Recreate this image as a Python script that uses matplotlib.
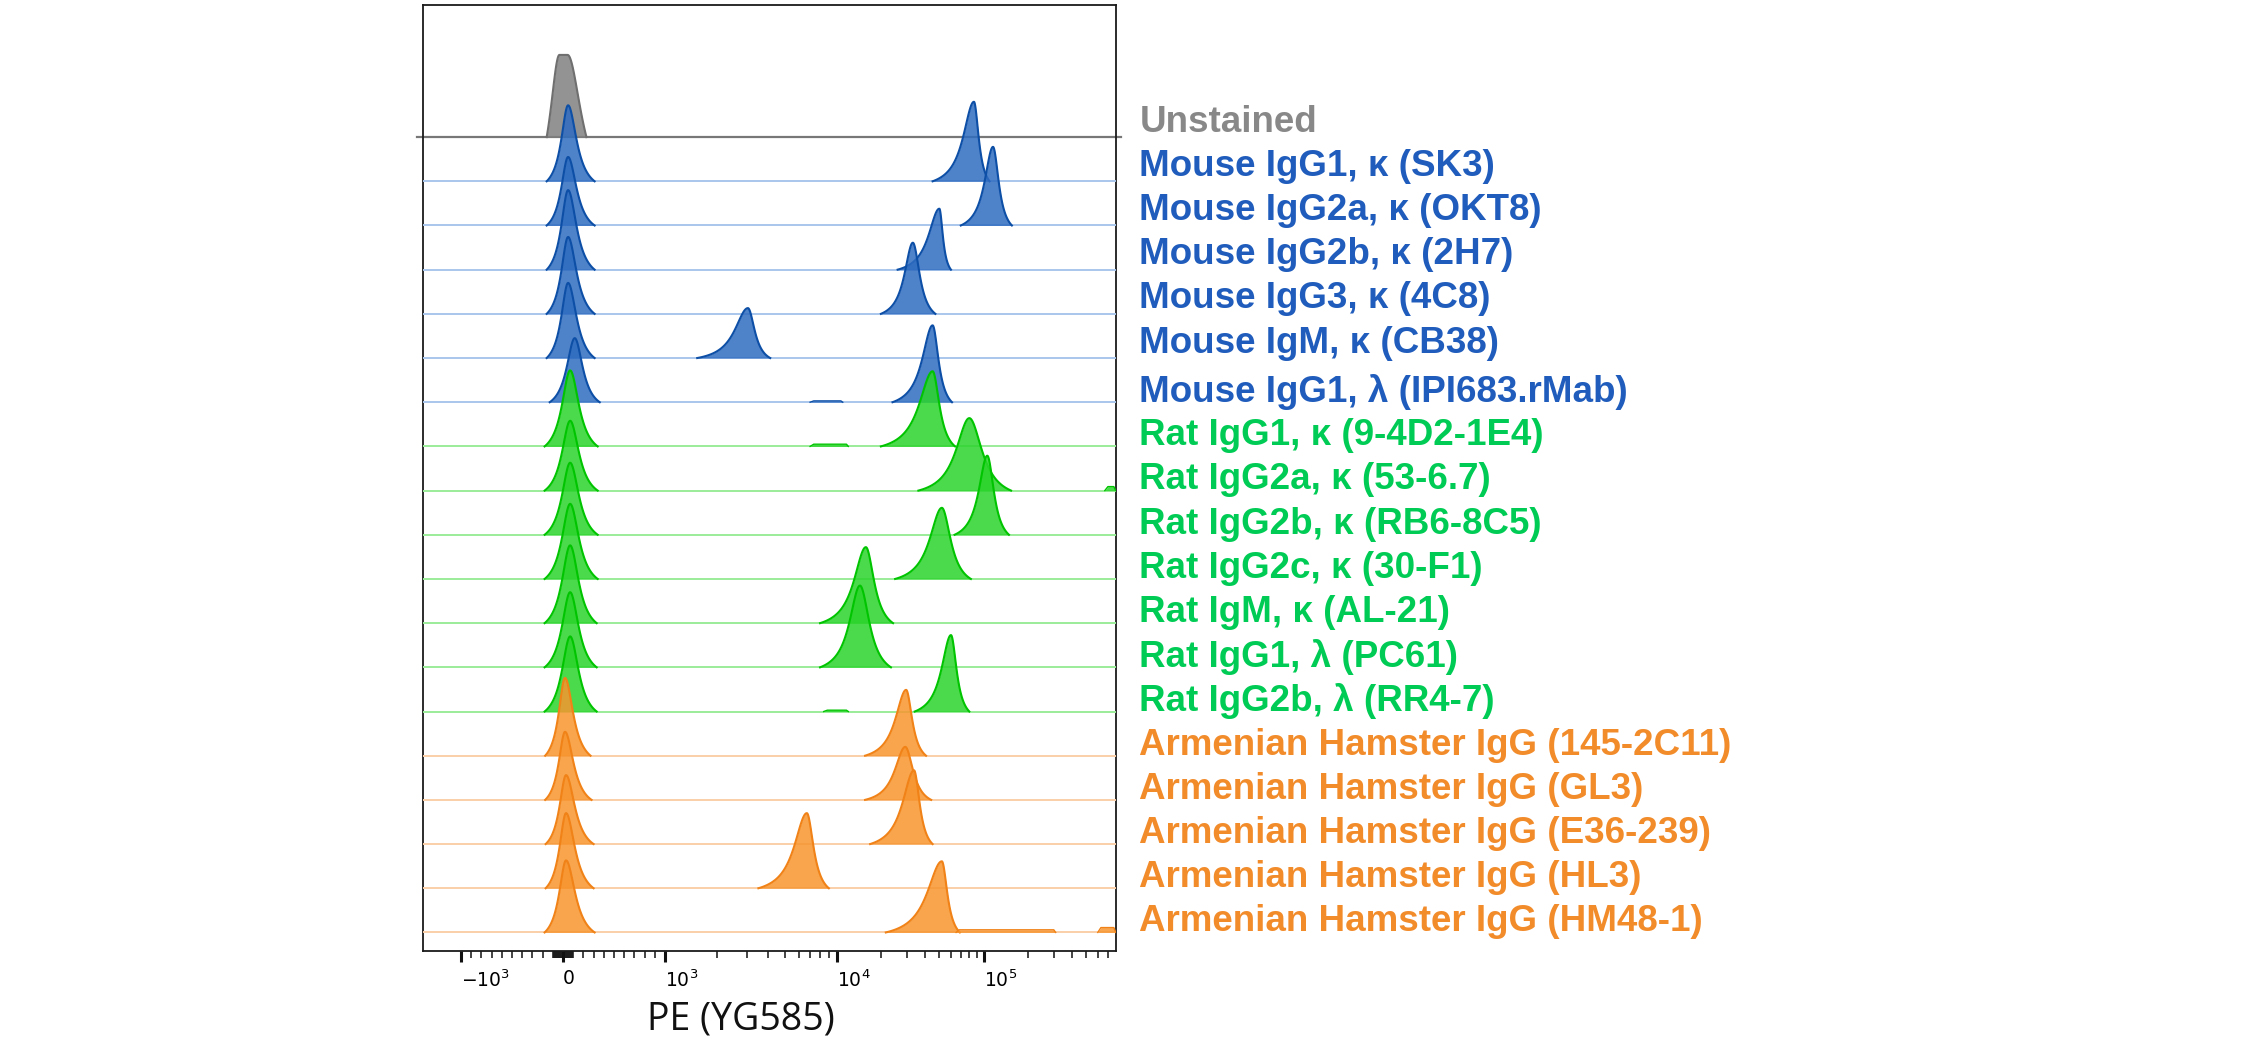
import numpy as np
import matplotlib
matplotlib.use("Agg")
import matplotlib.pyplot as plt
import matplotlib.transforms as mtransforms

# one histogram row per stain, top to bottom
labels = ["Unstained",
          "Mouse IgG1, κ (SK3)", "Mouse IgG2a, κ (OKT8)", "Mouse IgG2b, κ (2H7)",
          "Mouse IgG3, κ (4C8)", "Mouse IgM, κ (CB38)", "Mouse IgG1, λ (IPI683.rMab)",
          "Rat IgG1, κ (9-4D2-1E4)", "Rat IgG2a, κ (53-6.7)", "Rat IgG2b, κ (RB6-8C5)",
          "Rat IgG2c, κ (30-F1)", "Rat IgM, κ (AL-21)", "Rat IgG1, λ (PC61)",
          "Rat IgG2b, λ (RR4-7)",
          "Armenian Hamster IgG (145-2C11)", "Armenian Hamster IgG (GL3)",
          "Armenian Hamster IgG (E36-239)", "Armenian Hamster IgG (HL3)",
          "Armenian Hamster IgG (HM48-1)"]
groups = ["unstained"] + ["mouse"] * 6 + ["rat"] * 7 + ["hamster"] * 5

# negative population (PE units, height in row spacings)
zero_center = [5, 50, 50, 50, 50, 50, 115, 70, 70, 70, 70, 70, 70, 70, 20, 20, 30, 30, 30]
zero_left = [-160, -160, -160, -160, -160, -160, -130, -180, -180, -180, -180, -180, -180, -180,
             -175, -175, -170, -170, -180]
zero_right = [230, 310, 310, 310, 310, 310, 360, 340, 340, 340, 340, 330, 330, 330,
              270, 280, 300, 300, 310]
zero_height = [1.86, 1.72, 1.55, 1.80, 1.74, 1.70, 1.45, 1.72, 1.58, 1.63, 1.70, 1.76, 1.70, 1.70,
               1.76, 1.54, 1.56, 1.70, 1.63]

# stained population
pos_center = [None, 8.6e4, 1.16e5, 5.0e4, 3.3e4, 3.04e3, 4.5e4, 4.5e4, 8.0e4, 1.06e5, 5.2e4,
              1.58e4, 1.44e4, 6.0e4, 2.97e4, 2.93e4, 3.36e4, 6.7e3, 5.2e4]
pos_left = [None, 4.5e4, 7.0e4, 2.6e4, 2.0e4, 1.54e3, 2.4e4, 2.0e4, 3.6e4, 6.35e4, 2.5e4,
            8.0e3, 8.0e3, 3.4e4, 1.56e4, 1.56e4, 1.69e4, 3.5e3, 2.16e4]
pos_right = [None, 1.1e5, 1.56e5, 6.0e4, 4.7e4, 4.1e3, 6.1e4, 6.4e4, 1.54e5, 1.49e5, 8.2e4,
             2.42e4, 2.34e4, 8.0e4, 4.06e4, 4.4e4, 4.5e4, 9.0e3, 6.9e4]
pos_height = [0, 1.80, 1.78, 1.38, 1.61, 1.13, 1.74, 1.70, 1.64, 1.79, 1.61, 1.72, 1.85, 1.73,
              1.49, 1.20, 1.67, 1.70, 1.61]

# small flat stretches of events on the baseline: (row, from, to, height)
bumps = [(6, 7.0e3, 1.1e4, 0.03), (7, 7.0e3, 1.2e4, 0.05), (8, 6.7e5, 7.95e5, 0.09),
         (13, 8.4e3, 1.2e4, 0.03), (18, 6.5e4, 3.1e5, 0.06), (18, 6.0e5, 7.95e5, 0.11)]

major_ticks = [-1000, 0, 1000, 1e4, 1e5]
major_labels = [r"$\mathregular{-10^3}$", "0", r"$\mathregular{10^3}$",
                r"$\mathregular{10^4}$", r"$\mathregular{10^5}$"]
minor_ticks = (list(range(-900, 0, 100)) + list(range(-90, 100, 10)) + list(range(100, 1000, 100))
               + [k * 1e3 for k in range(2, 10)] + [k * 1e4 for k in range(2, 10)]
               + [k * 1e5 for k in range(2, 8)])

# label lift above each baseline (row spacings)
label_lift = [0.34] * 6 + [0.24] * 13

style = {
    "unstained": dict(fill="#808080", edge="#6f6f6f", base="#777777", text="#888888"),
    "mouse": dict(fill="#2f6cc0", edge="#0d4fa6", base="#a9c6ec", text="#1f5cbc"),
    "rat": dict(fill="#2bd42b", edge="#00c400", base="#9aec9a", text="#00cc55"),
    "hamster": dict(fill="#f7952f", edge="#f08217", base="#f9cfa8", text="#f28b2a"),
}

# biexponential-like display: linear around zero, log above 10^3
T0, SLOPE = 0.2021, 0.0001473
T3, T4, T5, D5 = 0.3494, 0.5972, 0.8092, 0.2119


def fwd(v):
    v = np.asarray(v, float)
    lin = T0 + v * SLOPE
    lg = np.interp(np.log10(np.clip(v, 1000, None)), [3, 4, 5, 6], [T3, T4, T5, T5 + D5])
    return np.where(v <= 1000, lin, lg)


def inv(t):
    t = np.asarray(t, float)
    lin = (t - T0) / SLOPE
    lg = 10 ** np.interp(t, [T3, T4, T5, T5 + D5], [3, 4, 5, 6])
    return np.where(t <= T3, lin, lg)


def prof(d, w):
    raw = 1 / (1 + (d / w) ** 2)
    lo = 1 / (1 + (1 / w) ** 2)
    return (raw - lo) / (1 - lo)


def peak_xy(center, left, right, wl, wr, top_half=0.0, n=60):
    l, cl, cr, r = fwd([left, center - top_half, center + top_half, right])
    tl = np.linspace(l, cl, n)
    tr = np.linspace(cr, r, n)
    rel = np.concatenate([prof((cl - tl) / (cl - l), wl), prof((tr - cr) / (r - cr), wr)])
    return inv(np.concatenate([tl, tr])), rel


fig = plt.figure(figsize=(22.42, 10.41), dpi=100)
ax = fig.add_axes([0.18867, 0.08646, 0.30897, 0.90874])
ax.set_xscale("function", functions=(fwd, inv))
ax.set_xlim(-1372, 7.95e5)
ax.set_ylim(-18.42, 2.99)

lab_tr = mtransforms.blended_transform_factory(ax.transAxes, ax.transData)

for i in range(len(labels)):
    st = style[groups[i]]
    base = -i
    z = 2 + i
    if i == 0:
        ax.axhline(base, xmin=-0.008, xmax=1.008, color=st["base"], lw=1.6, zorder=z, clip_on=False)
        x, rel = peak_xy(zero_center[i], zero_left[i], zero_right[i], 0.9, 0.9, top_half=40)
    else:
        ax.axhline(base, color=st["base"], lw=1.4, zorder=z)
        x, rel = peak_xy(zero_center[i], zero_left[i], zero_right[i], 0.4, 0.4)
    y = base + zero_height[i] * rel
    ax.fill_between(x, base, y, color=st["fill"], alpha=0.85, lw=0, zorder=z)
    ax.plot(x, y, color=st["edge"], lw=1.5, zorder=z)
    if pos_center[i] is not None:
        x, rel = peak_xy(pos_center[i], pos_left[i], pos_right[i], 0.32, 0.38)
        y = base + pos_height[i] * rel
        ax.fill_between(x, base, y, color=st["fill"], alpha=0.85, lw=0, zorder=z)
        ax.plot(x, y, color=st["edge"], lw=1.5, zorder=z)
    ax.text(1.034, base + label_lift[i], labels[i], transform=lab_tr, color=st["text"],
            fontsize=26.5, fontweight="bold", family=["Liberation Sans", "DejaVu Sans"],
            ha="left", va="center")

for row, a, b, h in bumps:
    st = style[groups[row]]
    ax.fill_between([a, a * 1.05, b / 1.03, b], -row, [-row, -row + h, -row + h, -row],
                    color=st["fill"], alpha=0.85, lw=0, zorder=2 + row)
    ax.plot([a, a * 1.05, b / 1.03, b], [-row, -row + h, -row + h, -row],
            color=st["edge"], lw=1.0, zorder=2 + row)

ax.set_xticks(major_ticks)
ax.set_xticklabels(major_labels)
ax.set_xticks(minor_ticks, minor=True)
for lbl in ax.get_xticklabels():
    lbl.set_horizontalalignment("left")
ax.tick_params(axis="x", which="major", length=8, width=2.2, direction="out",
               labelsize=13.5, pad=5, color="#111111")
ax.tick_params(axis="x", which="minor", length=4.8, width=1.1, direction="out", color="#111111")
ax.tick_params(axis="y", left=False, labelleft=False)
for sp in ax.spines.values():
    sp.set_linewidth(1.3)
    sp.set_color("#1a1a1a")

fig.text(0.3305, 0.021, "PE (YG585)", fontsize=27, family=["Open Sans", "DejaVu Sans"],
         ha="center", va="center", color="#111111")

fig.savefig("out.png", dpi=100)
